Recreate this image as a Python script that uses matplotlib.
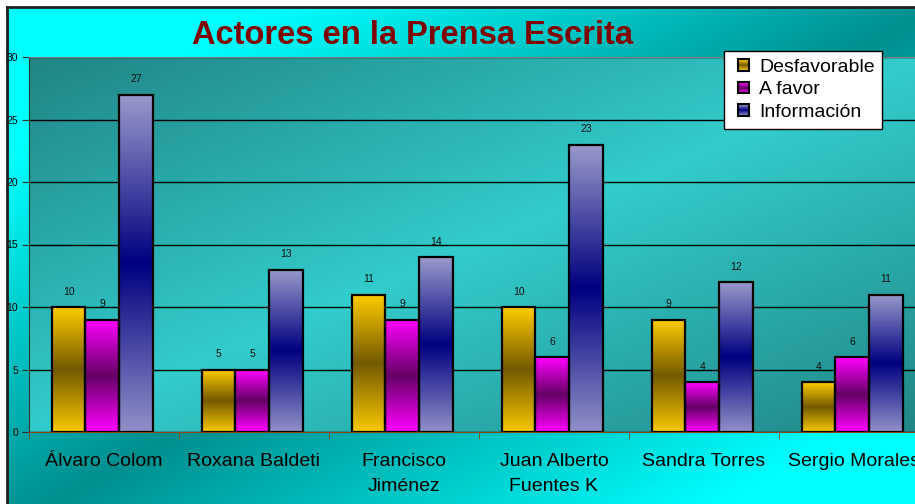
import matplotlib
matplotlib.use('Agg')
import matplotlib.pyplot as plt
import numpy as np
from matplotlib.colors import LinearSegmentedColormap
from matplotlib.patches import Rectangle
from matplotlib.legend_handler import HandlerBase

categories = ['Álvaro Colom', 'Roxana Baldeti', 'Francisco\nJiménez',
              'Juan Alberto\nFuentes K', 'Sandra Torres', 'Sergio Morales']
desfavorable = [10, 5, 11, 10, 9, 4]
a_favor = [9, 5, 9, 6, 4, 6]
informacion = [27, 13, 14, 23, 12, 11]
series_names = ['Desfavorable', 'A favor', 'Información']
yticks = [0, 5, 10, 15, 20, 25, 30]

plt.rcParams['font.family'] = ['Liberation Sans', 'DejaVu Sans']

W, H = 915, 504
fig = plt.figure(figsize=(W / 100, H / 100), dpi=100)
fig.patch.set_facecolor('white')

# chart area background (diagonal gradient)
bgax = fig.add_axes([7 / W, -0.05, 1.02, 1 - 7 / H + 0.05])
bgax.set_zorder(0)
u, t = np.meshgrid(np.linspace(0, 1, 300), np.linspace(0, 1, 300))
v = np.clip(np.abs(u + t - 1) * 1.4, 0, 1)
bg_cmap = LinearSegmentedColormap.from_list('bg', ['#008f8f', '#00ffff'])
bgax.imshow(v, cmap=bg_cmap, extent=(0, 1, 0, 1), origin='upper', aspect='auto',
            interpolation='bilinear')
bgax.set_xticks([])
bgax.set_yticks([])
for s in ['right', 'bottom']:
    bgax.spines[s].set_visible(False)
for s in ['left', 'top']:
    bgax.spines[s].set_color('#202020')
    bgax.spines[s].set_linewidth(2)

# plot area
ax = fig.add_axes([29 / W, 72 / H, 900 / W, 375 / H])
ax.set_zorder(1)
ax.patch.set_visible(False)
pa_cmap = LinearSegmentedColormap.from_list('pa', ['#33cccc', '#208585'])
v2 = np.abs(u + t - 1)
ax.imshow(v2, cmap=pa_cmap, extent=(0, 1, 0, 1), origin='upper', aspect='auto',
          interpolation='bilinear', transform=ax.transAxes, zorder=0)

cmaps = [
    LinearSegmentedColormap.from_list('d', ['#f8c800', '#745a00', '#ffcc00']),
    LinearSegmentedColormap.from_list('f', ['#ff00ff', '#660066', '#ff00ff']),
    LinearSegmentedColormap.from_list('i', ['#9090c8', '#000080', '#9999cc']),
]

x = np.arange(len(categories))
w = 0.224
offsets = [-w - 0.012, -0.012, w - 0.012]
grad = np.linspace(0, 1, 200).reshape(-1, 1)
for vals, off, cm in zip([desfavorable, a_favor, informacion], offsets, cmaps):
    for xi, val in zip(x, vals):
        ax.imshow(grad, cmap=cm, extent=(xi + off - w / 2, xi + off + w / 2, 0, val),
                  origin='lower', aspect='auto', interpolation='bilinear', zorder=2)
        ax.annotate(str(val), (xi + off, val), xytext=(0, 11), textcoords='offset points',
                    ha='center', va='center', fontsize=7.5, color='#101010', zorder=4)
    ax.bar(x + off, vals, width=w, fill=False, edgecolor='black', linewidth=1.6, zorder=3)

ax.set_xlim(-0.5, len(categories) - 0.5)
ax.set_ylim(0, 30)
ax.set_yticks(yticks)
ax.tick_params(axis='y', labelsize=7.5, length=5, pad=3, color='#303030')
ax.set_xticks(x)
ax.set_xticklabels(categories, fontsize=14, linespacing=1.65)
ax.tick_params(axis='x', which='major', length=0, pad=15)
ax.set_xticks(np.arange(-0.5, len(categories), 1), minor=True)
ax.tick_params(axis='x', which='minor', length=5, color='#8b4513', direction='out')
ax.yaxis.grid(True, color='black', linewidth=1)
ax.set_axisbelow(True)
for gl in ax.get_ygridlines():
    gl.set_zorder(1)
ax.spines['bottom'].set_color('#8b4513')
ax.spines['left'].set_color('#303030')
ax.spines['top'].set_color('#808080')
ax.spines['right'].set_visible(False)

fig.text(412 / W, 1 - 36 / H, 'Actores en la Prensa Escrita', ha='center', va='center',
         fontsize=23.5, fontweight='bold', color='#800000')


class GradHandler(HandlerBase):
    def __init__(self, cmap):
        super().__init__()
        self.cmap = cmap

    def create_artists(self, legend, orig_handle, xdescent, ydescent, width, height,
                       fontsize, trans):
        side = height * 0.95
        x0 = -xdescent + (width - side) / 2
        y0 = -ydescent + (height - side) / 2
        n = 12
        arts = []
        for i in range(n):
            arts.append(Rectangle((x0, y0 + i * side / n), side, side / n,
                                  facecolor=self.cmap(i / (n - 1)), edgecolor='none',
                                  transform=trans))
        arts.append(Rectangle((x0, y0), side, side, fill=False, edgecolor='black',
                              linewidth=1.5, transform=trans))
        return arts


proxies = [Rectangle((0, 0), 1, 1) for _ in series_names]
leg = fig.legend(proxies, series_names, loc='upper left',
                 bbox_to_anchor=(724 / W, 1 - 51 / H), bbox_transform=fig.transFigure,
                 handler_map={p: GradHandler(c) for p, c in zip(proxies, cmaps)},
                 fontsize=14, frameon=True, fancybox=False, framealpha=1,
                 borderpad=0.4, handlelength=1.2, handleheight=0.6, handletextpad=0.2,
                 labelspacing=0.29, borderaxespad=0)
leg.get_frame().set_edgecolor('black')
leg.get_frame().set_linewidth(1)
leg.get_frame().set_facecolor('white')
leg.set_zorder(5)

fig.savefig('out.png', dpi=100)
